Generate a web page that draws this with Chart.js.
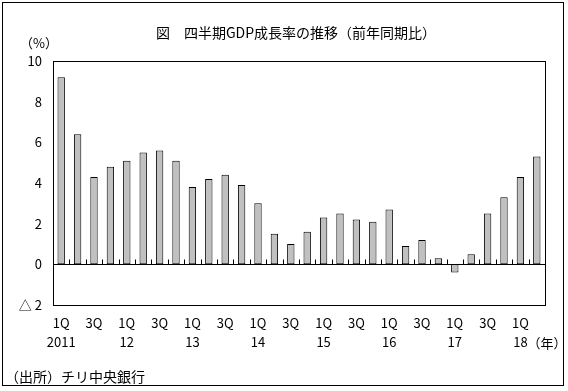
<!DOCTYPE html>
<html>
<head>
<meta charset="utf-8">
<script src="https://cdn.jsdelivr.net/npm/chart.js@4"></script>
<style>
  html, body { margin: 0; padding: 0; background: #fff; }
  #wrap { width: 568px; height: 391px; }
</style>
</head>
<body>
<div id="wrap"><canvas id="gdpChart" width="568" height="391"></canvas></div>
<script>
// Quarterly GDP growth (y/y, %), 2011 Q1 .. 2018 Q2
const quarters = ['1Q', '2Q', '3Q', '4Q'];
const years = ['2011', '12', '13', '14', '15', '16', '17', '18'];
const growth = [
    9.2, 6.4, 4.3, 4.8,
    5.1, 5.5, 5.6, 5.1,
    3.8, 4.2, 4.4, 3.9,
    3.0, 1.5, 1.0, 1.6,
    2.3, 2.5, 2.2, 2.1,
    2.7, 0.9, 1.2, 0.3,
    -0.4, 0.5, 2.5, 3.3,
    4.3, 5.3
];
const yTicks = { min: -2, max: 10, step: 2 };

const FONT = "'Noto Sans CJK JP', 'DejaVu Sans', sans-serif";

// Build the two-line tick labels: quarter on top, year under 1Q
const labels = growth.map((v, i) => {
    const q = i % 4;
    if (q === 0) return [quarters[0], years[i / 4]];
    if (q === 2) return [quarters[2], ''];
    return '';
});

// Frame, zero line, small ticks and the loose texts
const decorations = {
    id: 'decorations',
    beforeDatasetsDraw(chart) {
        const { ctx, chartArea: a, scales: { x, y } } = chart;
        const zero = Math.round(y.getPixelForValue(0)) + 0.5;
        ctx.save();
        ctx.strokeStyle = '#000';
        ctx.lineWidth = 1;
        ctx.beginPath();
        ctx.moveTo(a.left, zero);
        ctx.lineTo(a.right, zero);
        // tick marks between the categories, pointing up from the zero line
        for (let i = 1; i < growth.length; i++) {
            const px = Math.round((x.getPixelForValue(i - 1) + x.getPixelForValue(i)) / 2) + 0.5;
            ctx.moveTo(px, zero);
            ctx.lineTo(px, zero - 5);
        }
        ctx.stroke();
        ctx.strokeRect(Math.round(a.left) + 0.5, Math.round(a.top) + 0.5,
            Math.round(a.right - a.left), Math.round(a.bottom - a.top));
        ctx.restore();
    },
    afterDraw(chart) {
        const { ctx, scales: { x } } = chart;
        ctx.save();
        ctx.strokeStyle = '#000';
        ctx.lineWidth = 1;
        ctx.strokeRect(2.5, 2.5, 561, 383);

        ctx.fillStyle = '#000';
        ctx.textBaseline = 'middle';
        ctx.font = '14px ' + FONT;
        ctx.textAlign = 'center';
        ctx.fillText('図　四半期GDP成長率の推移（前年同期比）', 296, 33);

        ctx.font = '13px ' + FONT;
        ctx.textAlign = 'left';
        ctx.fillText('（%）', 20, 43);
        ctx.fillText('（年）', x.getPixelForValue(28) + 7, 343);

        ctx.font = '14px ' + FONT;
        ctx.fillText('（出所）チリ中央銀行', 5, 377);
        ctx.restore();
    }
};

new Chart(document.getElementById('gdpChart'), {
    type: 'bar',
    data: {
        labels: labels,
        datasets: [{
            data: growth,
            backgroundColor: '#c0c0c0',
            borderColor: '#000',
            borderWidth: 1,
            borderSkipped: false,
            barPercentage: 0.45,
            categoryPercentage: 1.0
        }]
    },
    options: {
        responsive: false,
        animation: false,
        layout: { padding: { left: 0, right: 23, top: 61, bottom: 36 } },
        plugins: {
            legend: { display: false },
            title: { display: false },
            tooltip: { enabled: false }
        },
        scales: {
            x: {
                grid: { display: false, drawTicks: false },
                border: { display: false },
                afterFit: (scale) => { scale.height = 50; },
                ticks: {
                    autoSkip: false,
                    maxRotation: 0,
                    padding: 8,
                    color: '#000',
                    font: { family: FONT, size: 13, lineHeight: 1.5 }
                }
            },
            y: {
                min: yTicks.min,
                max: yTicks.max,
                grid: { display: false, drawTicks: false },
                border: { display: false },
                afterFit: (scale) => { scale.width = 53; },
                ticks: {
                    stepSize: yTicks.step,
                    padding: 11,
                    color: '#000',
                    font: { family: FONT, size: 13 },
                    callback: (v) => v < 0 ? '△ ' + Math.abs(v) : String(v)
                }
            }
        }
    },
    plugins: [decorations]
});
</script>
</body>
</html>
